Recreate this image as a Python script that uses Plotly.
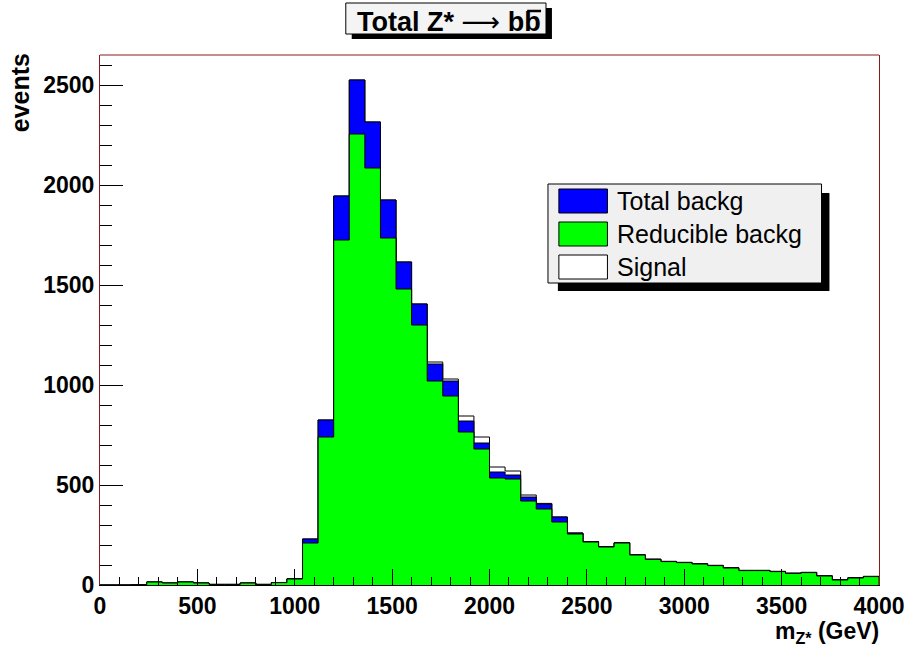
import plotly.graph_objects as go

# ---------------- data ----------------
bin_edges = [i * 80 for i in range(51)]  # 0 .. 4000 GeV, 80 GeV bins

reducible_backg = [0, 0, 2, 15, 10, 15, 10, 3, 3, 10, 3, 12, 30,
                   210, 740, 1725, 2255, 2085, 1735, 1480, 1300, 1020, 945, 765, 680,
                   535, 530, 420, 380, 315, 255, 215, 190, 210, 150, 128, 117, 112, 105,
                   97, 85, 72, 72, 67, 58, 62, 45, 25, 35, 42]
total_backg = [0, 0, 2, 15, 10, 15, 10, 3, 3, 10, 3, 12, 31,
               230, 825, 1945, 2525, 2315, 1925, 1615, 1405, 1105, 1020, 820, 710,
               565, 550, 440, 405, 340, 260, 217, 192, 211, 151, 129, 118, 113, 106,
               98, 86, 73, 73, 68, 59, 63, 46, 26, 36, 43]
signal = [0] * 21 + [10, 10, 25, 30, 25, 20, 10, 3] + [0] * 21

x_tick_vals = [0, 500, 1000, 1500, 2000, 2500, 3000, 3500, 4000]
y_tick_vals = [0, 500, 1000, 1500, 2000, 2500]
legend_labels = ["Total backg", "Reducible backg", "Signal"]
title_text = ("<b>Total Z*</b> <span style='font-family:DejaVu Sans;font-size:27px'>\u27f6</span> "
              "<b>bb</b>")

# ---------------- figure ----------------
W, H = 917, 647
L, R, T, B = 100, 31, 55, 62
FONT = "Liberation Sans, Arial, Helvetica, sans-serif"
FRAME = "#8b1a1a"


def px(xp):
    return (xp - L) / (W - L - R)


def py(yp):
    return (H - B - yp) / (H - T - B)


def step_trace(values, color, name):
    xs = [bin_edges[0]] + bin_edges[:-1] + [bin_edges[-1]]
    ys = [0] + list(values) + [0]
    return go.Scatter(x=xs, y=ys, mode="lines", line=dict(shape="hv", color="black", width=1),
                      fill="tozeroy", fillcolor=color, name=name, showlegend=False,
                      hoverinfo="skip")


sig_plus_bkg = [t + s for t, s in zip(total_backg, signal)]

fig = go.Figure()
fig.add_trace(step_trace(sig_plus_bkg, "white", legend_labels[2]))
fig.add_trace(step_trace(total_backg, "#0000ff", legend_labels[0]))
fig.add_trace(step_trace(reducible_backg, "#00ff00", legend_labels[1]))

fig.update_layout(
    width=W, height=H,
    margin=dict(l=L, r=R, t=T, b=B, pad=0),
    paper_bgcolor="white", plot_bgcolor="white",
    font=dict(family=FONT, color="black"),
    showlegend=False,
)

fig.update_xaxes(
    range=[0, 4000], tickvals=x_tick_vals, ticktext=[str(v) for v in x_tick_vals],
    ticks="inside", ticklen=16, tickcolor="black", tickwidth=1,
    minor=dict(ticks="inside", ticklen=8, dtick=100, tick0=0, tickcolor="black"),
    showline=True, linecolor="black", linewidth=1, showgrid=False, zeroline=False,
    tickfont=dict(size=23, family=FONT, weight="bold"),
)
fig.update_yaxes(
    range=[0, 2650], tickvals=y_tick_vals, ticktext=[str(v) for v in y_tick_vals],
    ticks="inside", ticklen=23, tickcolor="black", tickwidth=1,
    minor=dict(ticks="inside", ticklen=12, dtick=100, tick0=0, tickcolor="black"),
    showline=True, linecolor=FRAME, linewidth=1, mirror=True, showgrid=False, zeroline=False,
    tickfont=dict(size=23, family=FONT, weight="bold"),
)

shapes = []
# top frame line
shapes.append(dict(type="line", xref="paper", yref="paper", x0=0, x1=1, y0=1, y1=1,
                   line=dict(color=FRAME, width=1)))
# title box with shadow
shapes.append(dict(type="rect", xref="paper", yref="paper", x0=px(354), x1=px(556), y0=py(8), y1=py(39),
                   fillcolor="black", line=dict(width=0)))
shapes.append(dict(type="rect", xref="paper", yref="paper", x0=px(348), x1=px(550), y0=py(3), y1=py(34),
                   fillcolor="#f4f4f4", line=dict(color="black", width=1)))
# overline of the anti-b quark
shapes.append(dict(type="line", xref="paper", yref="paper", x0=px(531), x1=px(545), y0=py(11), y1=py(11),
                   line=dict(color="black", width=2.5)))
# legend box with shadow
shapes.append(dict(type="rect", xref="paper", yref="paper", x0=px(562), x1=px(836), y0=py(193), y1=py(291),
                   fillcolor="black", line=dict(width=0)))
shapes.append(dict(type="rect", xref="paper", yref="paper", x0=px(552), x1=px(828), y0=py(184), y1=py(283),
                   fillcolor="#f0f0f0", line=dict(color="black", width=1)))
swatch_colors = ["#0000ff", "#00ff00", "white"]
row_centers = [201, 234, 267]
for c, yc in zip(swatch_colors, row_centers):
    shapes.append(dict(type="rect", xref="paper", yref="paper", x0=px(563), x1=px(612),
                       y0=py(yc - 12), y1=py(yc + 12), fillcolor=c, line=dict(color="black", width=1)))

annotations = []
annotations.append(dict(text=title_text, xref="paper", yref="paper",
                        x=px(547), y=py(21), xanchor="right", yanchor="middle", showarrow=False,
                        font=dict(size=27, family=FONT, color="black")))
for lab, yc in zip(legend_labels, row_centers):
    annotations.append(dict(text=lab, xref="paper", yref="paper", x=px(620), y=py(yc),
                            xanchor="left", yanchor="middle", showarrow=False,
                            font=dict(size=25, family=FONT, color="black")))
annotations.append(dict(text="<b>events</b>", xref="paper", yref="paper", x=px(19), y=py(51),
                        xanchor="center", yanchor="top", textangle=-90, showarrow=False,
                        font=dict(size=25, family=FONT, color="black")))
annotations.append(dict(text="<b>m<sub>Z*</sub> (GeV)</b>", xref="paper", yref="paper", x=px(888), y=py(632),
                        xanchor="right", yanchor="middle", showarrow=False,
                        font=dict(size=23, family=FONT, color="black")))

fig.update_layout(shapes=shapes, annotations=annotations)
fig.write_html("out.html")
